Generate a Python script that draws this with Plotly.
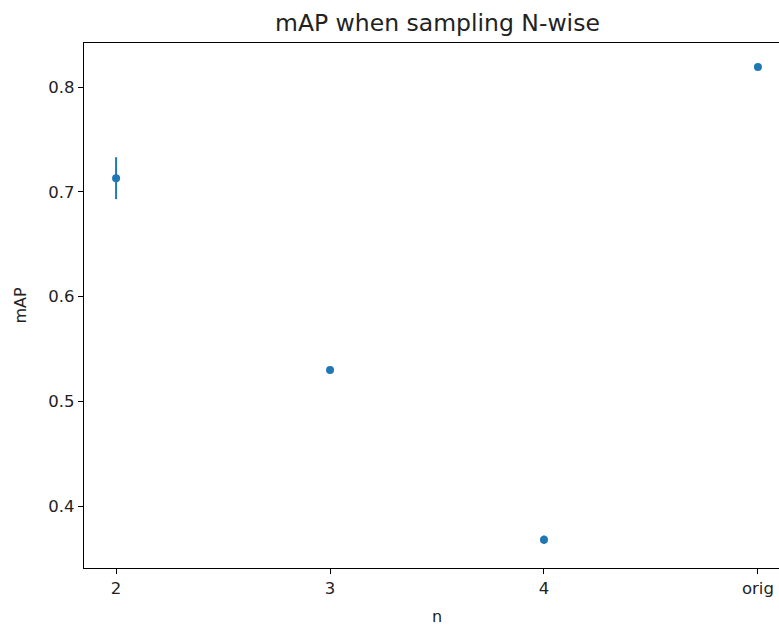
import plotly.graph_objects as go

categories = ["2", "3", "4", "orig"]
map_values = [0.713, 0.530, 0.368, 0.819]
map_errors = [0.020, 0.003, 0.004, 0.0]
y_ticks = [0.4, 0.5, 0.6, 0.7, 0.8]

W, H = 779, 626
L, T, B, R = 84, 43, 58, 0

xpos = list(range(len(categories)))

fig = go.Figure()
fig.add_trace(go.Scatter(
    x=xpos, y=map_values,
    mode="markers",
    marker=dict(color="#1f77b4", size=8),
    error_y=dict(type="data", array=map_errors, visible=True,
                 color="#1f77b4", thickness=2, width=0),
    showlegend=False,
))

font = "DejaVu Sans, sans-serif"
fig.update_layout(
    width=W, height=H,
    margin=dict(l=L, r=R, t=T, b=B),
    paper_bgcolor="white", plot_bgcolor="white",
    font=dict(family=font, size=16, color="black"),
    xaxis=dict(
        range=[-0.15, 3.0985],
        tickvals=xpos, ticktext=categories,
        showgrid=False, zeroline=False,
        showline=True, linecolor="black", linewidth=1.2, mirror=True,
        ticks="outside", ticklen=5, tickcolor="black", tickwidth=1,
        tickfont=dict(size=16.5, color="#222"),
    ),
    yaxis=dict(
        range=[0.341, 0.842],
        tickvals=y_ticks, tickformat=".1f",
        showgrid=False, zeroline=False,
        showline=True, linecolor="black", linewidth=1.2,
        ticks="outside", ticklen=5, tickcolor="black", tickwidth=1,
        tickfont=dict(size=16.5, color="#222"),
    ),
    annotations=[
        dict(text="mAP when sampling N-wise", xref="paper", yref="paper",
             x=(437 - L) / (W - L - R), y=1 + (T - 23) / (H - T - B),
             xanchor="center", yanchor="middle", showarrow=False,
             font=dict(size=23.5, color="#222", family=font)),
        dict(text="n", xref="paper", yref="paper",
             x=(437 - L) / (W - L - R), y=-(616 - (H - B)) / (H - T - B),
             xanchor="center", yanchor="middle", showarrow=False,
             font=dict(size=16, color="#222", family=font)),
        dict(text="mAP", xref="paper", yref="paper",
             x=-(L - 20) / (W - L - R), y=0.5, textangle=-90,
             xanchor="center", yanchor="middle", showarrow=False,
             font=dict(size=16, color="#222", family=font)),
    ],
)

fig.write_html(
    "out.html",
    config={"displayModeBar": False},
    post_script="document.body.style.margin='0';document.body.style.overflow='hidden';",
)
